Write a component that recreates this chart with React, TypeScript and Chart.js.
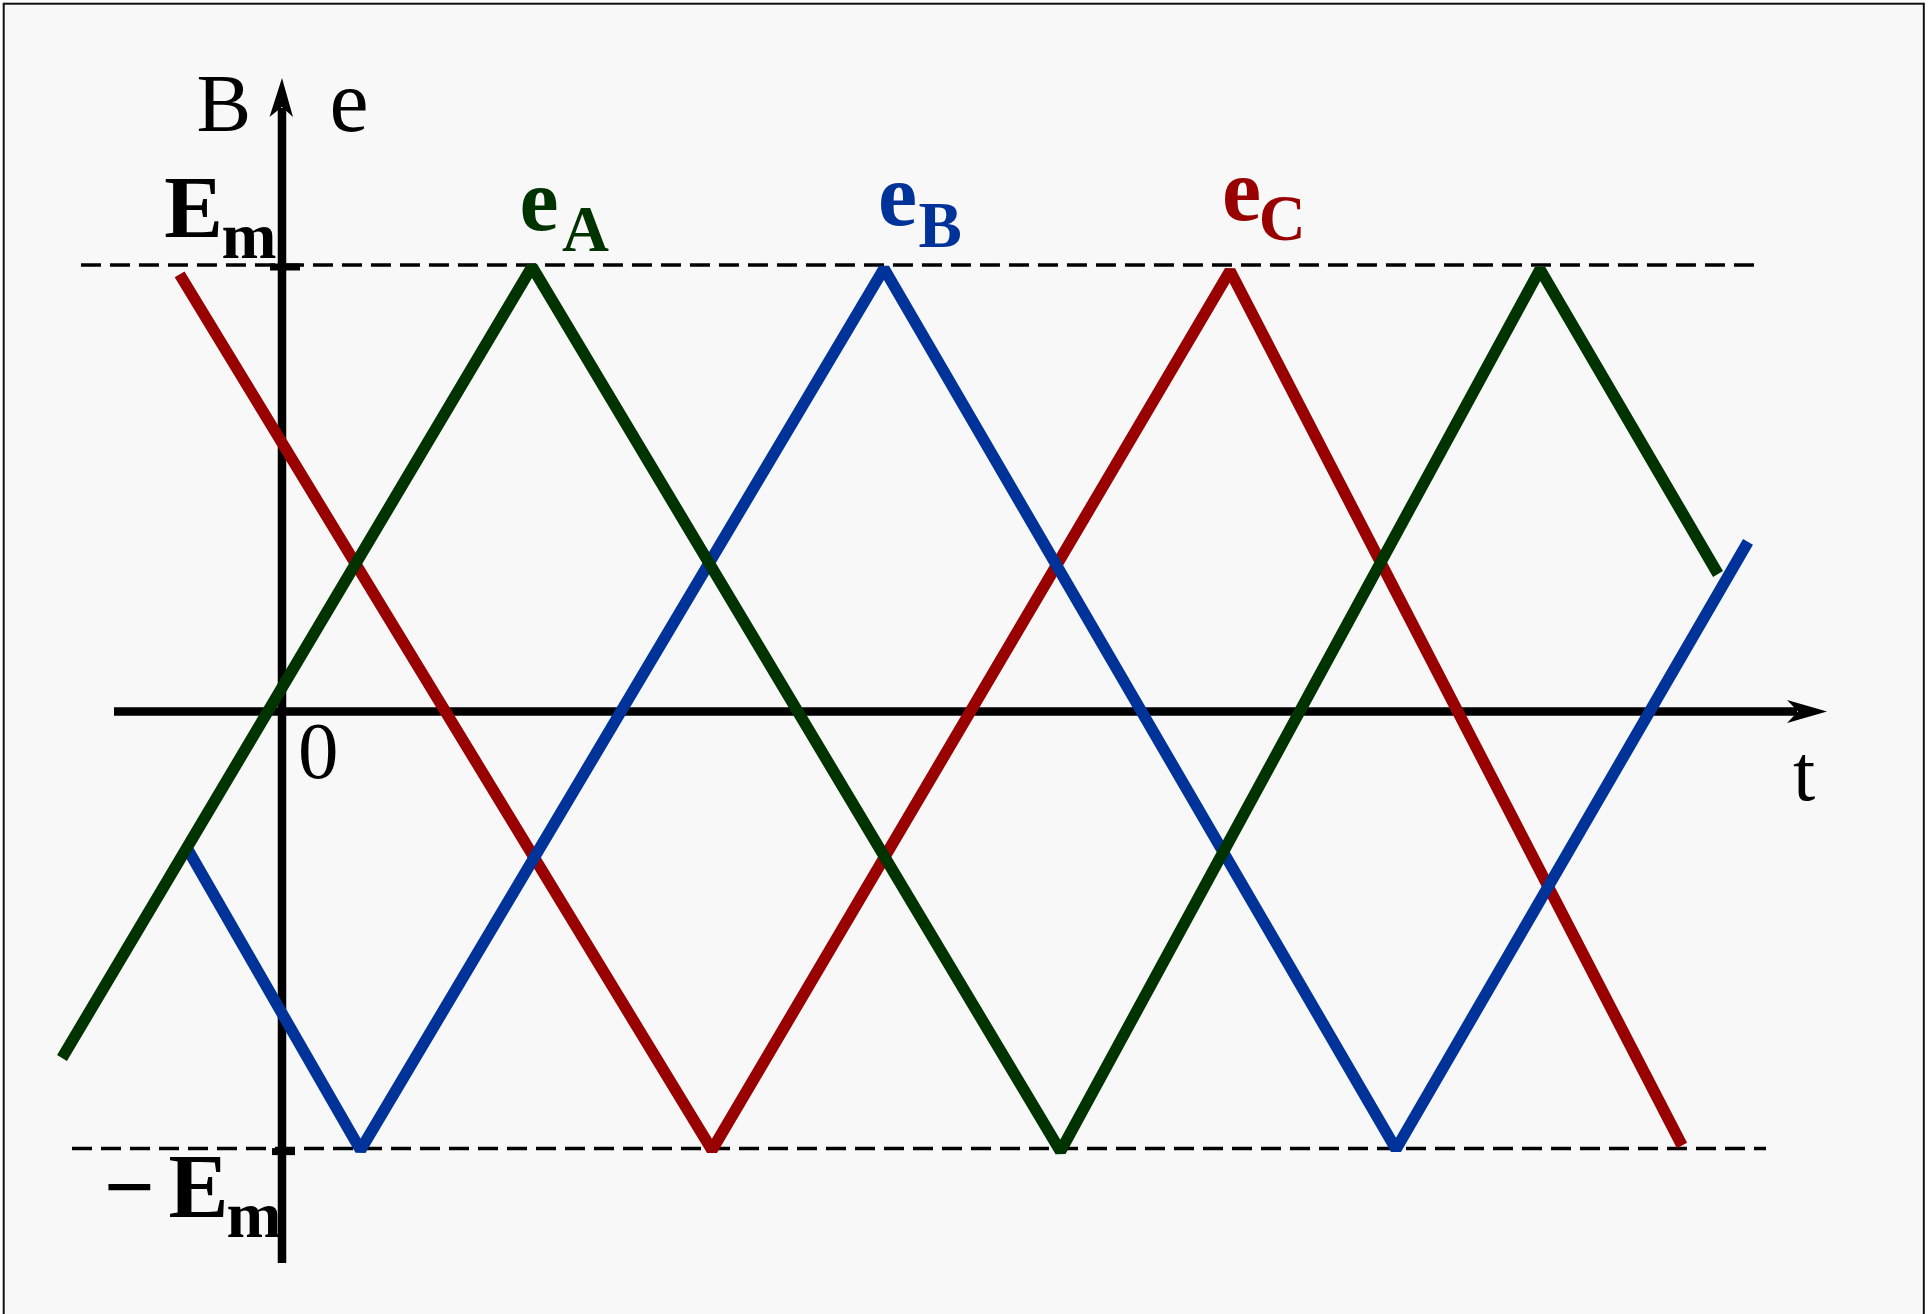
import React, { useEffect, useRef } from "react";
import { Chart, registerables } from "chart.js";

Chart.register(...registerables);

// Time (t, degree-like units) and value (in units of Em) of each polyline vertex
const EA_T = [-78.57, 89.29, 278.04, 449.29, 512.86];
const EA_V = [-0.776, 0.996, -0.985, 0.99, 0.308];
const EB_T = [-33.57, 28.04, 215.0, 397.86, 523.57];
const EB_V = [-0.31, -0.982, 0.992, -0.98, 0.38];
const EC_T = [-36.57, 153.57, 338.57, 500.0];
const EC_V = [0.979, -0.982, 0.987, -0.972];

// Dashed reference lines at +Em and -Em
const EM_TOP_T = [-71.8, 526.1];
const EM_TOP_V = 1.0;
const EM_BOTTOM_T = [-75.0, 530.0];
const EM_BOTTOM_V = -0.979;

// Scale ranges and axis extents
const X_RANGE = [-100.714, 588.571];
const Y_RANGE = [-1.3494, 1.5935];
const X_AXIS_T = [-60, 551.8];
const Y_AXIS_V = [-1.235, 1.419];

const GREEN = "#003300";
const BLUE = "#003399";
const RED = "#990000";

const W = 1930;
const H = 1314;
const SERIF = '"Liberation Serif", "Times New Roman", serif';

const pts = (ts: number[], vs: number[]) => ts.map((t, i) => ({ x: t, y: vs[i] }));

const decoPlugin = {
  id: "deco",
  beforeDraw(chart: any) {
    const ctx = chart.ctx;
    ctx.save();
    ctx.fillStyle = "#ffffff";
    ctx.fillRect(0, 0, W, H);
    ctx.fillStyle = "#f8f8f8";
    ctx.fillRect(3.7, 3.7, 1920.1, H);
    ctx.strokeStyle = "#111111";
    ctx.lineWidth = 2;
    ctx.strokeRect(3.7, 3.7, 1920.1, H + 40);
    ctx.restore();
  },
  beforeDatasetsDraw(chart: any) {
    const ctx = chart.ctx;
    const xs = chart.scales.x;
    const ys = chart.scales.y;
    const ox = xs.getPixelForValue(0);
    const oy = ys.getPixelForValue(0);
    ctx.save();
    ctx.strokeStyle = "#000";
    ctx.fillStyle = "#000";
    ctx.lineWidth = 8.5;
    ctx.lineCap = "butt";
    // x axis
    const x0 = xs.getPixelForValue(X_AXIS_T[0]);
    const x1 = xs.getPixelForValue(X_AXIS_T[1]);
    ctx.beginPath();
    ctx.moveTo(x0, oy);
    ctx.lineTo(x1 - 30, oy);
    ctx.stroke();
    ctx.beginPath();
    ctx.moveTo(x1, oy);
    ctx.lineTo(x1 - 40, oy - 11.5);
    ctx.lineTo(x1 - 29, oy);
    ctx.lineTo(x1 - 40, oy + 11.5);
    ctx.closePath();
    ctx.fill();
    // y axis
    const y0 = ys.getPixelForValue(Y_AXIS_V[0]);
    const y1 = ys.getPixelForValue(Y_AXIS_V[1]);
    ctx.beginPath();
    ctx.moveTo(ox, y0);
    ctx.lineTo(ox, y1 + 30);
    ctx.stroke();
    ctx.beginPath();
    ctx.moveTo(ox, y1);
    ctx.lineTo(ox - 12.5, y1 + 39);
    ctx.lineTo(ox, y1 + 29);
    ctx.lineTo(ox + 11, y1 + 39);
    ctx.closePath();
    ctx.fill();
    // ticks at +Em / -Em
    const yt = ys.getPixelForValue(EM_TOP_V);
    const yb = ys.getPixelForValue(EM_BOTTOM_V);
    ctx.fillRect(ox - 12, yt - 1.5, 30, 7);
    ctx.fillRect(ox - 10, yb - 0.5, 23, 7);
    ctx.restore();
  },
  afterDatasetsDraw(chart: any) {
    const ctx = chart.ctx;
    ctx.save();
    ctx.textAlign = "left";
    ctx.textBaseline = "alphabetic";
    const txt = (s: string, x: number, y: number, size: number, bold: boolean, color: string) => {
      ctx.font = `${bold ? "bold " : ""}${size}px ${SERIF}`;
      ctx.fillStyle = color;
      ctx.fillText(s, x, y);
    };
    txt("B", 196.5, 131, 82, false, "#000");
    txt("e", 329.5, 130.5, 88, false, "#000");
    txt("E", 164.3, 236.7, 88, true, "#000");
    txt("m", 221.5, 258.3, 66, true, "#000");
    txt("\u2212", 103.5, 1216.7, 90, true, "#000");
    txt("E", 168.5, 1216.7, 90, true, "#000");
    txt("m", 226.5, 1237.3, 66, true, "#000");
    txt("0", 298, 777.5, 81, false, "#000");
    txt("t", 1793, 800, 80, false, "#000");
    txt("e", 519.5, 229.5, 88, true, GREEN);
    txt("A", 562, 250.7, 65, true, GREEN);
    txt("e", 878, 225, 88, true, BLUE);
    txt("B", 918.5, 246.7, 65, true, BLUE);
    txt("e", 1222, 219.7, 88, true, RED);
    txt("C", 1258.7, 239.5, 65, true, RED);
    ctx.restore();
  },
};

export default function App() {
  const ref = useRef<HTMLCanvasElement | null>(null);
  useEffect(() => {
    document.body.style.margin = "0";
    document.body.style.overflow = "hidden";
    const canvas = ref.current;
    if (!canvas) return;
    let alive = true;
    const seriesStyle = {
      borderWidth: 11.5,
      pointRadius: 0,
      borderJoinStyle: "bevel" as const,
      borderCapStyle: "butt" as const,
      tension: 0,
      fill: false,
    };
    const dashStyle = {
      borderColor: "#000",
      borderWidth: 3.5,
      borderDash: [20, 9],
      pointRadius: 0,
      tension: 0,
      fill: false,
      order: 10,
    };
    const chart = new Chart(canvas, {
      type: "line",
      data: {
        datasets: [
          { label: "eA", data: pts(EA_T, EA_V), borderColor: GREEN, order: 1, ...seriesStyle },
          { label: "eB", data: pts(EB_T, EB_V), borderColor: BLUE, order: 2, ...seriesStyle },
          { label: "eC", data: pts(EC_T, EC_V), borderColor: RED, order: 3, ...seriesStyle },
          { label: "Em", data: EM_TOP_T.map((t) => ({ x: t, y: EM_TOP_V })), ...dashStyle },
          { label: "-Em", data: EM_BOTTOM_T.map((t) => ({ x: t, y: EM_BOTTOM_V })), ...dashStyle },
        ],
      },
      options: {
        responsive: false,
        animation: false,
        devicePixelRatio: 1,
        events: [],
        layout: { padding: 0 },
        plugins: { legend: { display: false }, tooltip: { enabled: false } },
        scales: {
          x: { type: "linear", min: X_RANGE[0], max: X_RANGE[1], display: false },
          y: { type: "linear", min: Y_RANGE[0], max: Y_RANGE[1], display: false },
        },
      },
      plugins: [decoPlugin],
    });
    const fontsApi: any = (document as any).fonts;
    if (fontsApi && fontsApi.load) {
      Promise.all([
        fontsApi.load(`82px ${SERIF}`),
        fontsApi.load(`bold 88px ${SERIF}`),
      ])
        .then(() => {
          if (alive) chart.draw();
        })
        .catch(() => {});
    }
    return () => {
      alive = false;
      chart.destroy();
    };
  }, []);
  return (
    <div style={{ position: "absolute", left: 0, top: 0, width: W, height: H }}>
      <canvas ref={ref} width={W} height={H} style={{ width: W, height: H, display: "block" }} />
    </div>
  );
}
